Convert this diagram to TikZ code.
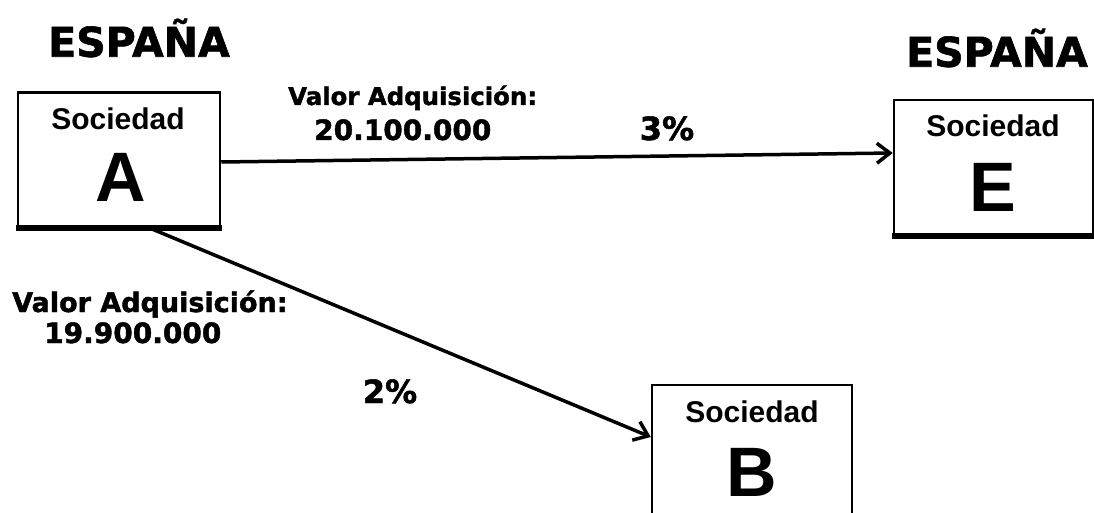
\documentclass[tikz,border=0pt]{standalone}
\usepackage{fontspec}
\setmainfont{Liberation Sans}
\newfontfamily\vfont[BoldFeatures={FakeBold=1.5}]{DejaVu Sans}
\usetikzlibrary{arrows.meta}
\begin{document}
\begin{tikzpicture}[x=1pt,y=-1pt,
  box/.style={draw, line width=2.5pt, inner sep=0pt, fill=white},
  soc/.style={inner sep=0pt, font=\fontsize{30}{30}\selectfont\bfseries},
  big/.style={inner sep=0pt, font=\fontsize{70}{70}\selectfont\bfseries},
  country/.style={inner sep=0pt, font=\vfont\bfseries\fontsize{41}{41}\selectfont},
  lbl/.style={inner sep=0pt, anchor=base west},
  pct/.style={inner sep=0pt, anchor=base, font=\vfont\bfseries\fontsize{32}{32}\selectfont},
  conn/.style={line width=3.5pt, -{Straight Barb[length=13pt,width=20pt,line width=3.5pt]}}
]
\useasboundingbox (0,0) rectangle (1094,513);

\node[country] (esp1) at (139,38) {ESPAÑA};
\node[country] (esp2) at (997,48) {ESPAÑA};

% boxes
\node[box, minimum width=202pt, minimum height=134pt] (A) at (119,159.5) {};
\node[box, minimum width=199pt, minimum height=135pt] (E) at (993.5,167.5) {};
\node[box, minimum width=200pt, minimum height=150pt] (B) at (752,460) {};
\draw[line width=6pt] ([xshift=-1pt]A.south west) -- ([xshift=1pt]A.south east);
\draw[line width=6pt] ([xshift=-1pt]E.south west) -- ([xshift=1pt]E.south east);

\node[soc] (sA) at (118,119) {Sociedad};
\node[big] (lA) at (121,177) {A};
\node[soc] (sE) at (993,126) {Sociedad};
\node[big] (lE) at (993,187) {E};
\node[soc] (sB) at (752,412) {Sociedad};
\node[big] (lB) at (752,472) {B};

% connectors
\draw[conn] ([yshift=-2.5pt]A.east) -- ([yshift=14.5pt]E.west);
\draw[conn] ([xshift=30pt]A.south) -- ([yshift=23pt]B.west);

% labels
\node[lbl, font=\vfont\bfseries\fontsize{24.4}{24.4}\selectfont] (v1) at (288,105) {Valor Adquisición:};
\node[lbl, font=\vfont\bfseries\fontsize{28}{28}\selectfont] (n1) at (314,140) {20.100.000};
\node[pct] (p1) at (667,140) {3\%};

\node[lbl, font=\vfont\bfseries\fontsize{27}{27}\selectfont] (v2) at (12,312) {Valor Adquisición:};
\node[lbl, font=\vfont\bfseries\fontsize{28}{28}\selectfont] (n2) at (44,343) {19.900.000};
\node[pct] (p2) at (390,403) {2\%};
\end{tikzpicture}
\end{document}
